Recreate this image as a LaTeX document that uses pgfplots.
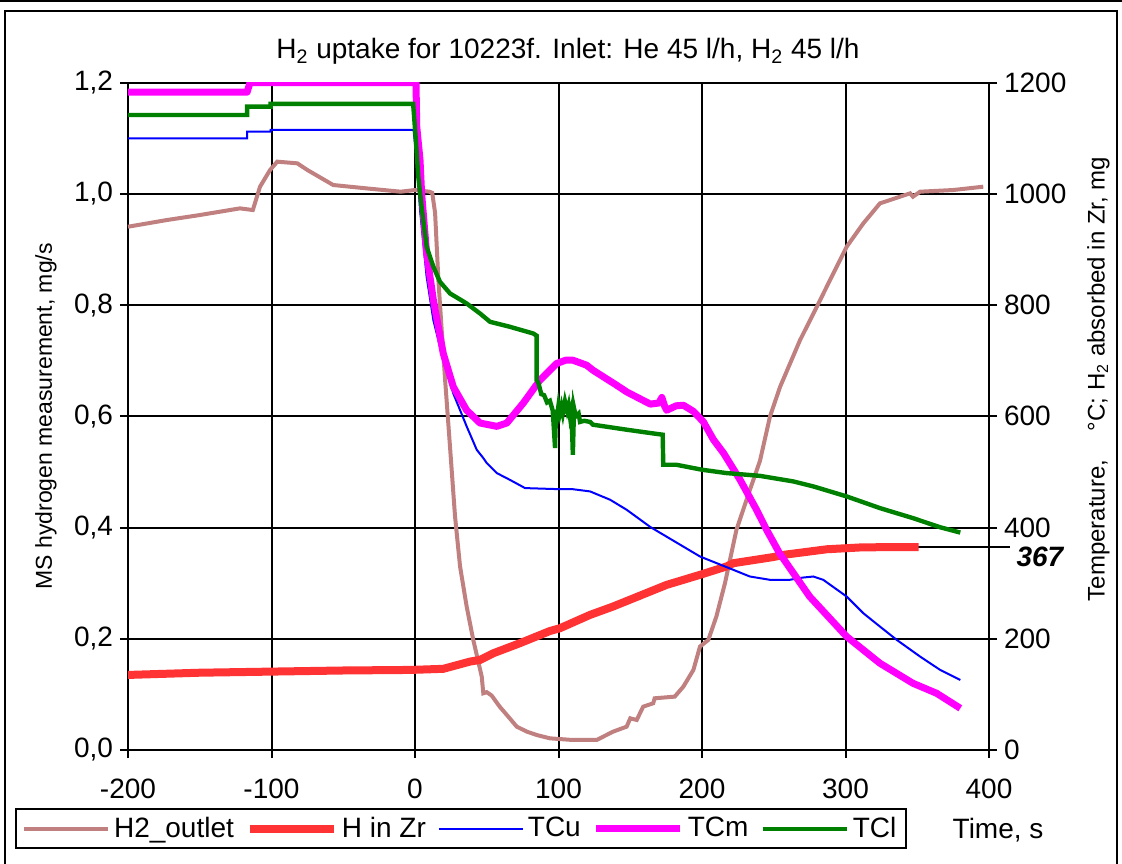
\documentclass[border=0pt]{standalone}
\usepackage{fontspec}
\setmainfont{Liberation Sans}
\usepackage{pgfplots}
\usepackage{pgfplotstable}
\pgfplotsset{compat=1.18}
\definecolor{cOut}{RGB}{192,128,128}
\definecolor{cZr}{RGB}{255,51,51}
\definecolor{cU}{RGB}{0,0,255}
\definecolor{cM}{RGB}{255,0,255}
\definecolor{cL}{RGB}{0,128,0}

\pgfplotstableread{
t v
-200 0.941
-173 0.953
-150 0.962
-122 0.974
-113 0.971
-108 1.013
-101 1.043
-96 1.058
-82 1.055
-75 1.043
-57 1.016
-34 1.010
-10 1.004
0 1.007
10 1.004
12 1.002
14 0.966
16.3 0.845
18.6 0.755
21 0.665
24.4 0.545
27.9 0.42
31.4 0.33
36 0.258
40.6 0.198
46.5 0.132
47.6 0.102
50 0.104
53.4 0.098
59 0.078
65 0.060
70.9 0.042
78 0.033
84.8 0.027
94 0.021
110 0.018
126.6 0.018
138 0.033
147.5 0.042
150 0.057
154.5 0.054
159 0.078
166 0.084
167 0.093
181 0.096
187 0.114
194 0.144
198.6 0.186
204.4 0.198
210 0.24
216 0.30
224 0.396
233.4 0.468
240.4 0.52
247.4 0.60
254.4 0.653
268.3 0.737
280 0.797
291.5 0.857
300.8 0.905
312.4 0.947
324 0.983
338 0.995
345 1.001
347 0.995
352 1.004
375 1.007
396 1.013
}\tOut

\pgfplotstableread{
t v
-200 135
-150 139
-100 141
-50 143
-3 144
19.7 146
38.3 159
45.3 162
54.6 174
73 192
94 214
101 219
122 243
138 258
175.4 297
198.6 315
217 330
222 336
249.7 347
257 351
287 361
312 364.5
351 365
}\tZr

\pgfplotstableread{
t v
-200 1100
-117 1100
-117 1112
-100.6 1112
-100.6 1115
-1 1115
1.2 1061
3.5 971
5.8 911
8.1 851
12.8 773
19.7 701
26.7 641
36 582
43 540
47.6 525
50 516
57 498
66 486
76.7 471
101 469
110 469
122 465
136 450
147.5 432
164 401
198.6 348
233.4 312
247.4 306
261 306
270 310
277.6 312
284.5 306
300.8 276
312.4 246
324 222
335.7 198
352 168
366 144
380 126
}\tU

\pgfplotstableread{
t v
-200 1183
-117 1183
-115 1200
0.7 1200
1.2 1121
3.5 1061
4.6 1001
8.1 893
12.8 809
19.7 713
26.7 653
36 611
45.3 588
57 582
64 588
75.5 624
87 665
98.7 695
105 701
110 701
119.6 692
124 683
140.5 656
147.5 644
164 622
170 624
172 634
174 618
175.4 611
182 619
187 620
194 609
201 590
208 558
215 534
226.5 486
238 432
245 396
254 354
275 276
300.8 204
324 156
347 120
363.5 102
380 75
}\tM

\pgfplotstableread{
t v
-200 1142
-117 1142
-117 1157
-100.6 1157
-100.6 1162
-1.3 1162
0.5 1100
2.3 1031
4.6 977
8.1 905
12.8 869
17.4 842
24.4 821
36 803
45.3 785
52.3 770
66.2 761
82.4 749
84.8 745
84.8 665
86 660
88 640
90 638
92 625
94 628
96 610
97.6 543
98.2 612
99 600
100 620
101 606
102 618
103 605
104.5 627
106 610
107 620
108 600
109 612
110 531
110.8 615
112 600
114 605
115 590
118 592
122 590
124 585
147.5 576
164 570
172.6 567
173 513
182 513
200 504
217 498
240.4 493
263.6 483
277.6 474
300.8 456
324 435
347 417
366 400.5
380 391
}\tL

\begin{document}
\begin{tikzpicture}
\useasboundingbox (-64pt,-56.5pt) rectangle (497pt,375pt);
\draw[line width=1pt] (-61.5pt,-70pt) rectangle (494.5pt,369.5pt);
\draw[line width=1.5pt] (-70pt,374.5pt) -- (510pt,374.5pt);

\begin{axis}[at={(0pt,0pt)}, anchor=south west, scale only axis,
  width=430.5pt, height=333.65pt,
  xmin=-200, xmax=400, ymin=0, ymax=1.2,
  xtick={-200,-100,0,100,200,300,400},
  ytick={0,0.2,0.4,0.6,0.8,1.0,1.2},
  grid=major, major grid style={black, line width=1pt},
  axis line style={line width=1pt},
  tick style={black, line width=1pt}, major tick length=4pt, tick align=outside,
  xtick pos=bottom, ytick pos=left,
  /pgf/number format/assume math mode=true,
  tick label style={font=\fontsize{14}{16}\selectfont},
  yticklabel style={/pgf/number format/fixed, /pgf/number format/fixed zerofill, /pgf/number format/precision=1, /pgf/number format/use comma},
  xticklabel style={/pgf/number format/1000 sep={}, yshift=-7pt},
  clip=false, no markers]
\addplot[color=cOut, line width=2pt] table {\tOut};
\node[rotate=90, font=\fontsize{11.5}{13}\selectfont] at (axis description cs:-0.0952,0.5) {MS hydrogen measurement, mg/s};
\node[rotate=90, font=\fontsize{12}{14}\selectfont] at (axis description cs:1.127,0.556) {Temperature,\hspace{1.2em}°C; H\textsubscript{2} absorbed in Zr, mg};
\node[font=\fontsize{14}{16}\selectfont] at (axis description cs:0.511,1.0465) {H\textsubscript{2} uptake for 10223f. Inlet: He 45 l/h, H\textsubscript{2} 45 l/h};
\node[font=\fontsize{14}{16}\selectfont] at (axis description cs:1.0105,-0.12) {Time, s};
\draw[line width=1pt] (axis cs:348,0.365) -- (axis cs:414.6,0.365);
\node[font=\fontsize{14}{16}\selectfont\bfseries\itshape] at (axis cs:435.5,0.347) {367};
\end{axis}

\begin{axis}[at={(0pt,0pt)}, anchor=south west, scale only axis,
  width=430.5pt, height=333.65pt,
  xmin=-200, xmax=400, ymin=0, ymax=1200,
  axis x line=none, axis y line*=right,
  axis line style={-, line width=1pt},
  ytick={0,200,400,600,800,1000,1200},
  tick style={black, line width=1pt}, major tick length=4pt, tick align=outside,
  /pgf/number format/assume math mode=true,
  /pgf/number format/1000 sep={},
  tick label style={font=\fontsize{14}{16}\selectfont},
  no markers,
  legend image code/.code={\draw[#1] (0pt,0pt) -- (42pt,0pt);},
  legend columns=5,
  legend cell align=left,
  legend style={at={(axis description cs:-0.1312,-0.087)}, anchor=north west,
    draw=black, line width=1pt, font=\fontsize{14}{16}\selectfont,
    inner ysep=2pt,
    /tikz/every even column/.append style={column sep=4pt}}]
\addlegendimage{color=cOut, line width=2pt}
\addlegendentry{H2\_outlet}
\addplot[color=cZr, line width=4pt] table {\tZr};
\addlegendentry{H in Zr}
\addplot[color=cU, line width=1pt] table {\tU};
\addlegendentry{TCu}
\addplot[color=cM, line width=3.5pt, line join=round] table {\tM};
\addlegendentry{TCm}
\addplot[color=cL, line width=2.2pt] table {\tL};
\addlegendentry{TCl}
\end{axis}
\end{tikzpicture}
\end{document}
